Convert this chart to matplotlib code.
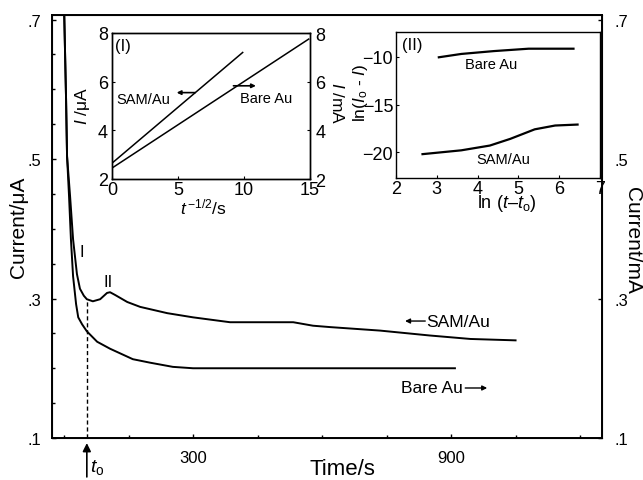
import numpy as np
import matplotlib.pyplot as plt
import matplotlib.ticker as ticker
import matplotlib.transforms as mtrans

plt.rcParams['font.family'] = ['Liberation Sans', 'DejaVu Sans']
plt.rcParams['mathtext.fontset'] = 'custom'
plt.rcParams['mathtext.rm'] = 'Liberation Sans'
plt.rcParams['mathtext.it'] = 'Liberation Sans:italic'
plt.rcParams['mathtext.bf'] = 'Liberation Sans:bold'

### Data
# chronoamperometric transients (time in s, current)
sam_t = [0, 4.7, 7, 14, 21, 30, 37, 46, 53, 67, 84, 100, 107, 119, 147, 177,
         240, 300, 386, 460, 533, 579, 619, 735, 850, 945, 1050]
sam_i = [0.72, 0.586, 0.504, 0.447, 0.385, 0.335, 0.314, 0.304, 0.299, 0.296,
         0.299, 0.308, 0.309, 0.305, 0.295, 0.288, 0.279, 0.273, 0.266, 0.266,
         0.266, 0.261, 0.259, 0.254, 0.247, 0.242, 0.240]
bare_t = [0, 4.7, 7, 11.6, 16, 21, 28, 33, 42, 53, 77, 107, 160, 200, 253,
          300, 450, 600, 750, 909]
bare_i = [0.72, 0.586, 0.504, 0.447, 0.385, 0.332, 0.292, 0.273, 0.263, 0.253,
          0.238, 0.228, 0.213, 0.208, 0.202, 0.200, 0.200, 0.200, 0.200, 0.200]
t0 = 53

# inset (I): current vs t^-1/2
ins1_sam_x = [0, 9.9]
ins1_sam_y = [2.65, 7.2]
ins1_bare_x = [0, 14.9]
ins1_bare_y = [2.45, 7.75]

# inset (II): ln(Io - I) vs ln(t - to)
ins2_bare_x = [3.05, 3.6, 4.4, 5.25, 5.8, 6.35]
ins2_bare_y = [-10.05, -9.7, -9.4, -9.15, -9.15, -9.15]
ins2_sam_x = [2.65, 3.6, 4.3, 4.8, 5.4, 5.9, 6.45]
ins2_sam_y = [-20.2, -19.8, -19.3, -18.6, -17.6, -17.2, -17.1]

main_yticks = [0.1, 0.3, 0.5, 0.7]
main_xticks = [300, 900]
ins1_xticks = [0, 5, 10, 15]
ins1_yticks = [2, 4, 6, 8]
ins2_xticks = [2, 3, 4, 5, 6, 7]
ins2_yticks = [-10, -15, -20]

W, H = 643, 481


def rect(l, t, r, b):
    return [l / W, 1 - b / H, (r - l) / W, (b - t) / H]


def ftext(x, y, s, **kw):
    fig.text(x / W, 1 - y / H, s, ha='center', va='center', **kw)


fig = plt.figure(figsize=(W / 100, H / 100), dpi=100)

### Main plot
ax = fig.add_axes(rect(52, 16, 602, 439))
ax.plot(sam_t, sam_i, color='k', lw=1.4)
ax.plot(bare_t, bare_i, color='k', lw=1.4)
ax.plot([t0, t0], [0.1, np.interp(t0, sam_t, sam_i)], color='k', lw=1,
        dashes=(3, 2))
ax.set_xlim(-28, 1251)
ax.set_ylim(0.1, 0.7065)
dotfmt = ticker.FuncFormatter(lambda v, p: f'{v:.1f}'.lstrip('0'))
ax.set_yticks(main_yticks)
ax.yaxis.set_major_formatter(dotfmt)
ax.yaxis.set_minor_locator(ticker.MultipleLocator(0.05))
ax.set_xticks(main_xticks)
ax.xaxis.set_minor_locator(ticker.MultipleLocator(150))
ax.tick_params(which='both', direction='in', width=1, labelsize=12)
ax.tick_params(axis='y', which='major', length=3, pad=8)
ax.tick_params(axis='y', which='minor', length=2)
ax.tick_params(axis='x', which='major', length=3, pad=9)
ax.tick_params(axis='x', which='minor', length=2)
for s in ax.spines.values():
    s.set_linewidth(1.4)

axr = ax.twinx()
axr.set_ylim(ax.get_ylim())
axr.set_yticks(main_yticks)
axr.yaxis.set_major_formatter(dotfmt)
axr.tick_params(direction='in', length=3, width=1, labelsize=12, pad=9)

ax.text(42, 0.367, 'I', ha='center', va='center', fontsize=12)
ax.text(102, 0.324, 'II', ha='center', va='center', fontsize=12)
ax.text(842, 0.2677, 'SAM/Au', ha='left', va='center', fontsize=12.5)
ax.annotate('', xy=(793, 0.2677), xytext=(840, 0.2677),
            arrowprops=dict(arrowstyle='-|>', color='k', lw=1,
                            mutation_scale=7, shrinkA=0, shrinkB=0))
ax.text(928, 0.1717, 'Bare Au', ha='right', va='center', fontsize=12.5)
ax.annotate('', xy=(984, 0.1717), xytext=(933, 0.1717),
            arrowprops=dict(arrowstyle='-|>', color='k', lw=1,
                            mutation_scale=7, shrinkA=0, shrinkB=0))

# t0 marker below the axis
blend = mtrans.blended_transform_factory(ax.transData, ax.transAxes)
ax.annotate('', xy=(t0, -0.012), xycoords=blend, xytext=(t0, -0.092),
            textcoords=blend, annotation_clip=False,
            arrowprops=dict(arrowstyle='-|>', color='k', lw=1.2,
                            mutation_scale=12, shrinkA=0, shrinkB=0))
ax.text(60, -0.068, r'$t_{\rm o}$', transform=blend, ha='left', va='center',
        fontsize=14)

ftext(19, 227, 'Current/μA', rotation=90, fontsize=15)
ftext(633, 240, 'Current/mA', rotation=270, fontsize=15)
ftext(342, 470, 'Time/s', fontsize=16)

### Inset (I)
ax1 = fig.add_axes(rect(112, 34, 310, 180))
ax1.plot(ins1_sam_x, ins1_sam_y, color='k', lw=1.1)
ax1.plot(ins1_bare_x, ins1_bare_y, color='k', lw=1.1)
ax1.set_xlim(0, 15)
ax1.set_ylim(2, 8)
ax1.set_xticks(ins1_xticks)
ax1.set_yticks(ins1_yticks)
ax1.tick_params(direction='in', length=2, labelsize=13)
ax1.tick_params(axis='x', pad=1.5)
ax1.tick_params(axis='y', pad=3)
ax1r = ax1.twinx()
ax1r.set_ylim(2, 8)
ax1r.set_yticks(ins1_yticks)
ax1r.tick_params(direction='in', length=2, labelsize=13, pad=4)
for a in (ax1, ax1r):
    for s in a.spines.values():
        s.set_linewidth(1)
ax1.text(0.83, 7.47, '(I)', ha='center', va='center', fontsize=12)
ax1.text(2.35, 5.29, 'SAM/Au', ha='center', va='center', fontsize=10.5)
ax1.text(11.67, 5.33, 'Bare Au', ha='center', va='center', fontsize=10.5)
ax1.annotate('', xy=(4.9, 5.55), xytext=(6.3, 5.55),
             arrowprops=dict(arrowstyle='-|>', color='k', lw=1.2,
                             mutation_scale=6, shrinkA=0, shrinkB=0))
ax1.annotate('', xy=(10.9, 5.83), xytext=(9.2, 5.83),
             arrowprops=dict(arrowstyle='-|>', color='k', lw=1.2,
                             mutation_scale=6, shrinkA=0, shrinkB=0))
ftext(82, 106, r'$I$ /μA', rotation=90, fontsize=12.5)
ftext(337, 103, r'$I$ /mA', rotation=270, fontsize=12.5)
ftext(203, 207, r'$t^{\,\mathrm{-1/2}}$/s', fontsize=12.5)

### Inset (II)
ax2 = fig.add_axes(rect(396, 33, 600, 179))
ax2.plot(ins2_bare_x, ins2_bare_y, color='k', lw=1.6)
ax2.plot(ins2_sam_x, ins2_sam_y, color='k', lw=1.6)
ax2.set_xlim(2, 7)
ax2.set_ylim(-22.7, -7.4)
ax2.set_xticks(ins2_xticks)
ax2.set_yticks(ins2_yticks)
ax2.yaxis.set_major_formatter(ticker.FuncFormatter(lambda v, p: f'\u2212{abs(v):.0f}'))
ax2.tick_params(direction='in', length=2, labelsize=13)
ax2.tick_params(axis='x', pad=1.5)
ax2.tick_params(axis='y', pad=2)
for s in ax2.spines.values():
    s.set_linewidth(1)
ax2.text(2.4, -8.74, '(II)', ha='center', va='center', fontsize=12)
ax2.text(4.33, -10.74, 'Bare Au', ha='center', va='center', fontsize=10.5)
ax2.text(4.62, -20.7, 'SAM/Au', ha='center', va='center', fontsize=10.5)
ftext(361, 93, r'ln($I_{\rm o}$ - $I$)', rotation=90, fontsize=12.5)
ftext(507, 204, r'ln ($t$–$t_{\rm o}$)', fontsize=13)

fig.savefig('out.png', dpi=100)
